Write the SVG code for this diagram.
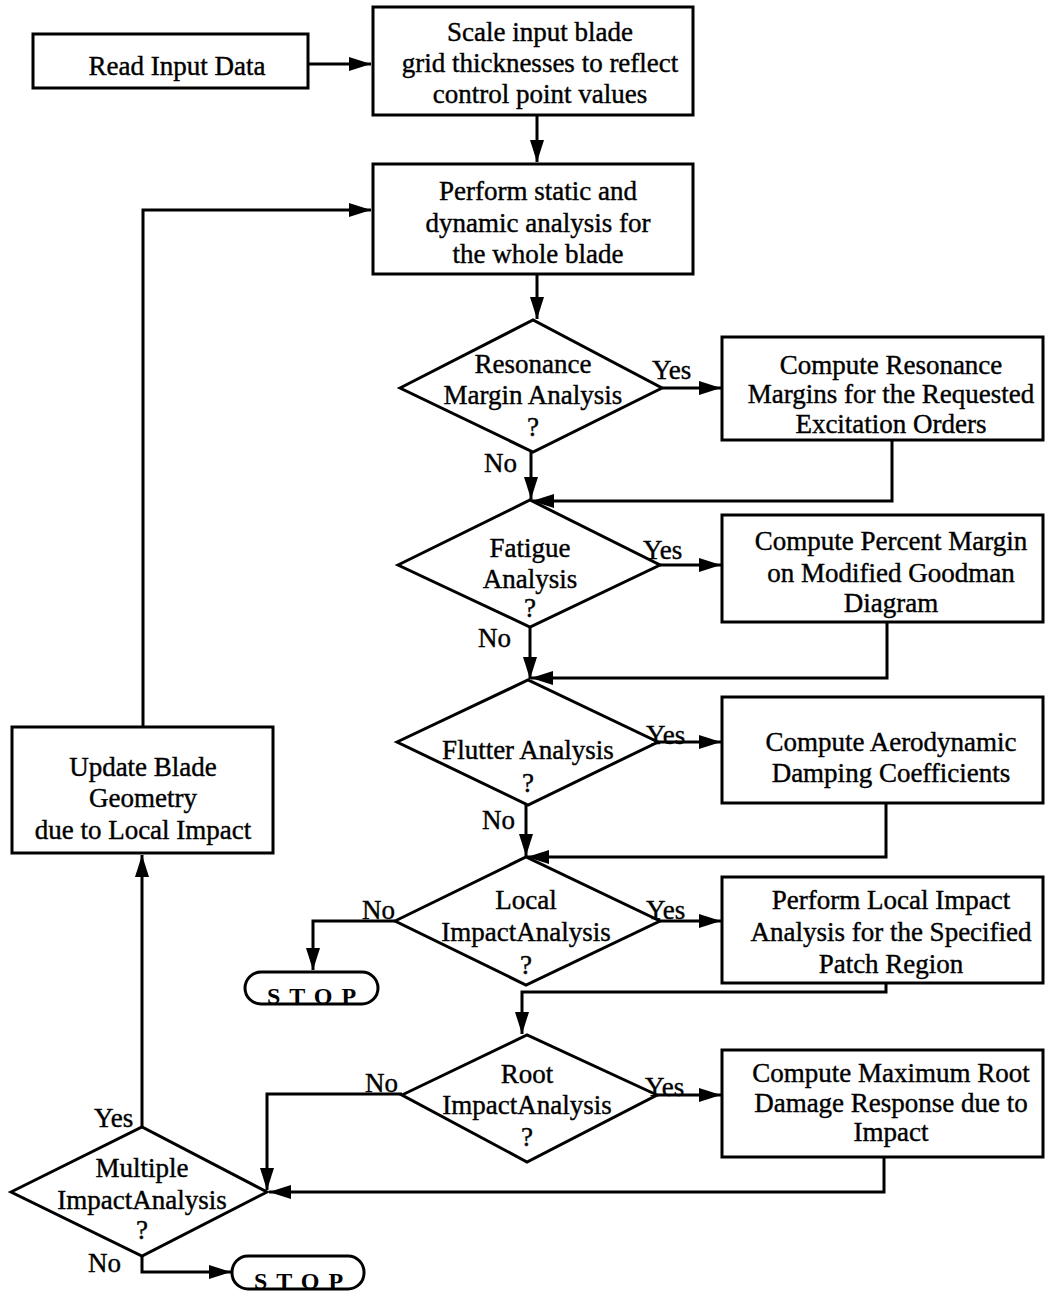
<svg xmlns="http://www.w3.org/2000/svg" width="1047" height="1296" viewBox="0 0 1047 1296">
<style>
.b{fill:#fff;stroke:#000;stroke-width:3}
.t{font-family:"Liberation Serif","Times New Roman",serif;font-size:27px;fill:#000;stroke:#000;stroke-width:0.4;text-anchor:middle}
.l{font-family:"Liberation Serif","Times New Roman",serif;font-size:27px;fill:#000;stroke:#000;stroke-width:0.4}
.s{font-family:"Liberation Serif","Times New Roman",serif;font-size:24px;font-weight:bold;fill:#000;text-anchor:middle;letter-spacing:9px}
.c{fill:none;stroke:#000;stroke-width:3}
</style>
<defs>
<marker id="a" markerUnits="userSpaceOnUse" markerWidth="24" markerHeight="16" refX="22" refY="7" orient="auto">
<path d="M0,0 L22,7 L0,14 z" fill="#000"/>
</marker>
</defs>
<rect width="1047" height="1296" fill="#fff"/>
<g id="connectors">
<path class="c" d="M308,64 H371" marker-end="url(#a)"/>
<path class="c" d="M537,115 V162" marker-end="url(#a)"/>
<path class="c" d="M537,274 V319" marker-end="url(#a)"/>
<path class="c" d="M662,388 H721" marker-end="url(#a)"/>
<path class="c" d="M531,452 V499" marker-end="url(#a)"/>
<path class="c" d="M892,440 V501 H532" marker-end="url(#a)"/>
<path class="c" d="M660,565 H721" marker-end="url(#a)"/>
<path class="c" d="M530,627 V679" marker-end="url(#a)"/>
<path class="c" d="M887,622 V678 H531" marker-end="url(#a)"/>
<path class="c" d="M658,742 H721" marker-end="url(#a)"/>
<path class="c" d="M526,805 V856" marker-end="url(#a)"/>
<path class="c" d="M886,803 V857 H527" marker-end="url(#a)"/>
<path class="c" d="M395,921 H313 V970" marker-end="url(#a)"/>
<path class="c" d="M660,921 H721" marker-end="url(#a)"/>
<path class="c" d="M886,983 V992 H522 V1034" marker-end="url(#a)"/>
<path class="c" d="M657,1095 H721" marker-end="url(#a)"/>
<path class="c" d="M402,1094 H267 V1190" marker-end="url(#a)"/>
<path class="c" d="M884,1157 V1192 H269" marker-end="url(#a)"/>
<path class="c" d="M142,1127 V855" marker-end="url(#a)"/>
<path class="c" d="M143,727 V210 H371" marker-end="url(#a)"/>
<path class="c" d="M142,1256 V1272 H231" marker-end="url(#a)"/>
</g>
<g id="read"><rect class="b" x="33" y="34" width="275" height="54"/><text class="t" x="177" y="75">Read Input Data</text></g>
<g id="scale"><rect class="b" x="373" y="7" width="320" height="108"/><text class="t" x="540" y="41">Scale input blade</text><text class="t" x="540" y="72">grid thicknesses  to reflect</text><text class="t" x="540" y="103">control point values</text></g>
<g id="perform"><rect class="b" x="373" y="164" width="320" height="110"/><text class="t" x="538" y="200">Perform static and</text><text class="t" x="538" y="232">dynamic analysis for</text><text class="t" x="538" y="263">the whole blade</text></g>
<g id="resonance"><polygon class="b" points="400,388 533,320 662,388 533,452"/><text class="t" x="533" y="373">Resonance</text><text class="t" x="533" y="404">Margin Analysis</text><text class="t" x="533" y="436">?</text></g>
<g id="compres"><rect class="b" x="722" y="337" width="321" height="103"/><text class="t" x="891" y="374">Compute Resonance</text><text class="t" x="891" y="403">Margins for the Requested</text><text class="t" x="891" y="433">Excitation Orders</text></g>
<g id="fatigue"><polygon class="b" points="398,565 530,500 660,565 530,627"/><text class="t" x="530" y="557">Fatigue</text><text class="t" x="530" y="588">Analysis</text><text class="t" x="530" y="617">?</text></g>
<g id="comppct"><rect class="b" x="722" y="515" width="321" height="107"/><text class="t" x="891" y="550">Compute Percent Margin</text><text class="t" x="891" y="582">on Modified Goodman</text><text class="t" x="891" y="612">Diagram</text></g>
<g id="flutter"><polygon class="b" points="397,742 528,680 658,742 528,805"/><text class="t" x="528" y="759">Flutter Analysis</text><text class="t" x="528" y="792">?</text></g>
<g id="compaero"><rect class="b" x="722" y="697" width="321" height="106"/><text class="t" x="891" y="751">Compute Aerodynamic</text><text class="t" x="891" y="782">Damping Coefficients</text></g>
<g id="local"><polygon class="b" points="395,921 526,857 660,921 526,985"/><text class="t" x="526" y="909">Local</text><text class="t" x="526" y="941">ImpactAnalysis</text><text class="t" x="526" y="974">?</text></g>
<g id="localbox"><rect class="b" x="722" y="877" width="321" height="106"/><text class="t" x="891" y="909">Perform Local Impact</text><text class="t" x="891" y="941">Analysis for the Specified</text><text class="t" x="891" y="973">Patch Region</text></g>
<g id="stop1"><rect class="b" x="245" y="972" width="133" height="32" rx="16"/><text class="s" x="316" y="1004">STOP</text></g>
<g id="root"><polygon class="b" points="402,1095 527,1035 657,1095 527,1162"/><text class="t" x="527" y="1083">Root</text><text class="t" x="527" y="1114">ImpactAnalysis</text><text class="t" x="527" y="1146">?</text></g>
<g id="rootbox"><rect class="b" x="722" y="1050" width="321" height="107"/><text class="t" x="891" y="1082">Compute Maximum Root</text><text class="t" x="891" y="1112">Damage Response due to</text><text class="t" x="891" y="1141">Impact</text></g>
<g id="multiple"><polygon class="b" points="11,1192 142,1127 267,1192 142,1256"/><text class="t" x="142" y="1177">Multiple</text><text class="t" x="142" y="1209">ImpactAnalysis</text><text class="t" x="142" y="1239">?</text></g>
<g id="update"><rect class="b" x="12" y="727" width="261" height="126"/><text class="t" x="143" y="776">Update Blade</text><text class="t" x="143" y="807">Geometry</text><text class="t" x="143" y="839">due to Local Impact</text></g>
<g id="stop2"><rect class="b" x="232" y="1256" width="132" height="33" rx="16"/><text class="s" x="303" y="1289">STOP</text></g>
<g id="labels">
<text class="l" x="652" y="379">Yes</text><text class="l" x="484" y="472">No</text>
<text class="l" x="643" y="559">Yes</text><text class="l" x="478" y="647">No</text>
<text class="l" x="646" y="744">Yes</text><text class="l" x="482" y="829">No</text>
<text class="l" x="362" y="919">No</text><text class="l" x="646" y="919">Yes</text>
<text class="l" x="365" y="1092">No</text><text class="l" x="645" y="1096">Yes</text>
<text class="l" x="94" y="1127">Yes</text><text class="l" x="88" y="1272">No</text>
</g>
</svg>
